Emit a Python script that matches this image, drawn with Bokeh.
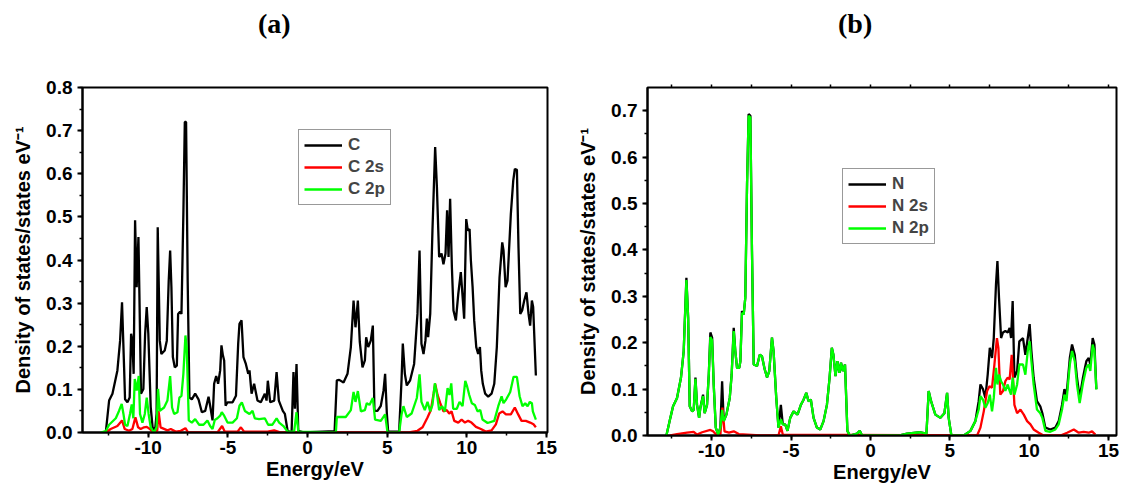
from bokeh.plotting import figure
from bokeh.models import (Range1d, SingleIntervalTicker, LinearAxis, Div, Spacer,
                          NumeralTickFormatter, CustomJSTickFormatter)
from bokeh.layouts import row, column
from bokeh.embed import file_html
from bokeh.resources import INLINE

# ---------------- data: panel (a) carbon ----------------
c_tot_e = [-12.66, -12.45, -12.24, -11.93, -11.76, -11.64, -11.51, -11.45, -11.30, -11.16,
           -11.07, -10.99, -10.91, -10.82, -10.72, -10.61, -10.55, -10.45, -10.30, -10.19,
           -10.09, -9.99, -9.84, -9.72, -9.57, -9.47, -9.40, -9.27, -9.17, -8.96,
           -8.83, -8.71, -8.62, -8.54, -8.45, -8.33, -8.20, -8.12, -8.00, -7.91,
           -7.79, -7.70, -7.62, -7.52, -7.41, -7.26, -7.05, -6.84, -6.63, -6.42,
           -6.21, -6.11, -5.96, -5.86, -5.73, -5.61, -5.48, -5.40, -5.31, -5.23,
           -5.14, -5.02, -4.70, -4.49, -4.35, -4.27, -4.14, -4.02, -3.87, -3.72,
           -3.64, -3.51, -3.35, -3.14, -2.93, -2.68, -2.57, -2.49, -2.34, -2.09,
           -1.94, -1.80, -1.55, -1.42, -1.25, -1.00, -0.88, -0.79, -0.69, -0.58,
           -0.20, 1.70, 1.84, 1.99, 2.26, 2.51, 2.72, 2.89, 3.01, 3.16,
           3.28, 3.45, 3.60, 3.68, 3.81, 3.97, 4.10, 4.20, 4.39, 4.60,
           4.77, 4.87, 4.98, 5.06, 5.75, 5.90, 5.98, 6.11, 6.23, 6.44,
           6.69, 6.90, 7.03, 7.15, 7.28, 7.40, 7.49, 7.57, 7.70, 7.84,
           8.01, 8.12, 8.26, 8.41, 8.53, 8.66, 8.76, 8.85, 8.95, 9.06,
           9.16, 9.31, 9.46, 9.62, 9.75, 9.83, 9.96, 10.06, 10.17, 10.25,
           10.36, 10.46, 10.59, 10.71, 10.82, 10.90, 11.00, 11.15, 11.34, 11.55,
           11.72, 11.88, 12.05, 12.22, 12.30, 12.43, 12.55, 12.76, 12.91, 13.01,
           13.14, 13.24, 13.35, 13.47, 13.60, 13.74, 13.87, 13.97, 14.08, 14.16,
           14.33]
c_tot = [0.000, 0.074, 0.090, 0.144, 0.213, 0.302, 0.151, 0.077, 0.070, 0.081,
         0.229, 0.213, 0.136, 0.492, 0.337, 0.453, 0.322, 0.090, 0.101, 0.229,
         0.291, 0.229, 0.059, 0.012, 0.004, 0.043, 0.476, 0.213, 0.182, 0.190,
         0.213, 0.352, 0.422, 0.337, 0.175, 0.151, 0.155, 0.275, 0.280, 0.275,
         0.507, 0.720, 0.720, 0.352, 0.081, 0.077, 0.090, 0.077, 0.047, 0.050,
         0.083, 0.062, 0.028, 0.113, 0.131, 0.113, 0.144, 0.202, 0.179, 0.167,
         0.062, 0.070, 0.070, 0.085, 0.206, 0.252, 0.260, 0.175, 0.159, 0.136,
         0.144, 0.090, 0.113, 0.074, 0.070, 0.090, 0.074, 0.120, 0.070, 0.074,
         0.140, 0.074, 0.050, 0.043, 0.004, 0.000, 0.140, 0.055, 0.159, 0.004,
         0.000, 0.003, 0.121, 0.122, 0.116, 0.136, 0.198, 0.306, 0.244, 0.306,
         0.210, 0.151, 0.167, 0.221, 0.198, 0.213, 0.248, 0.050, 0.050, 0.062,
         0.097, 0.136, 0.043, 0.002, 0.002, 0.121, 0.206, 0.136, 0.109, 0.121,
         0.159, 0.275, 0.422, 0.206, 0.182, 0.213, 0.264, 0.221, 0.275, 0.468,
         0.662, 0.569, 0.407, 0.415, 0.390, 0.415, 0.515, 0.407, 0.542, 0.383,
         0.283, 0.260, 0.321, 0.372, 0.306, 0.264, 0.495, 0.468, 0.472, 0.400,
         0.337, 0.260, 0.198, 0.182, 0.198, 0.144, 0.113, 0.090, 0.083, 0.090,
         0.113, 0.198, 0.360, 0.441, 0.422, 0.337, 0.352, 0.507, 0.584, 0.611,
         0.609, 0.429, 0.275, 0.283, 0.306, 0.325, 0.275, 0.248, 0.306, 0.291,
         0.132]

c_2s_e = [-12.66, -12.35, -11.93, -11.64, -11.47, -11.20, -10.99, -10.80, -10.63, -10.47,
          -10.26, -10.09, -9.89, -9.68, -9.43, -9.35, -9.22, -8.79, -8.58, -8.27,
          -7.95, -7.66, -7.49, -5.65, -5.36, -5.19, -4.39, -4.18, -3.98, -2.51,
          -2.09, -1.67, 6.36, 6.90, 7.22, 7.53, 7.74, 7.91, 8.01, 8.16,
          8.33, 8.53, 8.74, 8.89, 9.04, 9.21, 9.46, 9.67, 9.88, 10.08,
          10.29, 10.57, 10.88, 11.19, 11.55, 11.82, 12.03, 12.24, 12.45, 12.76,
          13.01, 13.22, 13.43, 13.70, 13.97, 14.18, 14.33]
c_2s = [0.000, 0.008, 0.015, 0.028, 0.008, 0.004, 0.008, 0.035, 0.012, 0.008,
        0.012, 0.013, 0.008, 0.000, 0.004, 0.050, 0.012, 0.005, 0.008, 0.002,
        0.004, 0.010, 0.000, 0.000, 0.015, 0.002, 0.002, 0.012, 0.002, 0.002,
        0.005, 0.000, 0.000, 0.004, 0.012, 0.035, 0.052, 0.090, 0.113, 0.087,
        0.068, 0.049, 0.052, 0.044, 0.049, 0.027, 0.023, 0.030, 0.023, 0.027,
        0.023, 0.013, 0.008, 0.002, 0.005, 0.019, 0.044, 0.049, 0.042, 0.042,
        0.058, 0.042, 0.027, 0.027, 0.023, 0.019, 0.012]

c_2p_e = [-12.98, -12.66, -12.45, -12.03, -11.83, -11.66, -11.55, -11.45, -11.30, -11.14,
          -11.03, -10.93, -10.84, -10.72, -10.59, -10.51, -10.36, -10.21, -10.09, -9.97,
          -9.84, -9.63, -9.47, -9.38, -9.27, -9.00, -8.79, -8.62, -8.50, -8.37,
          -8.16, -8.04, -7.91, -7.79, -7.66, -7.58, -7.45, -7.26, -7.05, -6.80,
          -6.53, -6.28, -6.11, -5.96, -5.82, -5.65, -5.48, -5.38, -5.23, -5.02,
          -4.70, -4.43, -4.27, -4.12, -3.93, -3.64, -3.45, -3.31, -3.04, -2.68,
          -2.47, -2.20, -1.94, -1.78, -1.51, -1.25, -0.84, -0.69, -0.58, 1.78,
          1.84, 2.40, 2.72, 2.89, 3.01, 3.16, 3.35, 3.60, 3.72, 3.89,
          4.10, 4.24, 4.60, 4.87, 5.02, 5.75, 5.90, 6.02, 6.23, 6.53,
          6.86, 7.03, 7.15, 7.36, 7.53, 7.70, 7.84, 7.99, 8.12, 8.26,
          8.45, 8.62, 8.79, 8.91, 9.02, 9.14, 9.37, 9.54, 9.73, 9.90,
          10.00, 10.15, 10.31, 10.50, 10.67, 10.84, 10.98, 11.30, 11.72, 11.97,
          12.18, 12.30, 12.47, 12.72, 12.93, 13.14, 13.31, 13.49, 13.66, 13.81,
          13.95, 14.08, 14.14, 14.33]
c_2p = [0.000, 0.003, 0.018, 0.033, 0.050, 0.066, 0.043, 0.018, 0.015, 0.043,
        0.065, 0.033, 0.124, 0.097, 0.131, 0.043, 0.023, 0.043, 0.081, 0.043,
        0.012, 0.000, 0.012, 0.101, 0.050, 0.058, 0.074, 0.131, 0.058, 0.043,
        0.047, 0.081, 0.085, 0.136, 0.225, 0.198, 0.028, 0.023, 0.031, 0.018,
        0.018, 0.028, 0.015, 0.008, 0.029, 0.033, 0.039, 0.047, 0.039, 0.023,
        0.023, 0.033, 0.062, 0.070, 0.050, 0.043, 0.050, 0.033, 0.031, 0.033,
        0.018, 0.018, 0.033, 0.023, 0.015, 0.002, 0.002, 0.047, 0.002, 0.000,
        0.036, 0.036, 0.052, 0.094, 0.071, 0.096, 0.049, 0.052, 0.068, 0.064,
        0.080, 0.030, 0.027, 0.042, 0.000, 0.000, 0.042, 0.061, 0.036, 0.044,
        0.080, 0.135, 0.071, 0.052, 0.071, 0.049, 0.064, 0.114, 0.090, 0.052,
        0.061, 0.049, 0.103, 0.087, 0.114, 0.055, 0.055, 0.071, 0.061, 0.120,
        0.109, 0.087, 0.068, 0.064, 0.049, 0.052, 0.030, 0.022, 0.027, 0.061,
        0.084, 0.068, 0.077, 0.094, 0.129, 0.129, 0.084, 0.061, 0.068, 0.061,
        0.071, 0.068, 0.049, 0.030]

# ---------------- data: panel (b) nitrogen ----------------
n_val_e = [-12.85, -12.60, -12.43, -12.18, -11.93, -11.76, -11.59, -11.48, -11.38, -11.23,
           -11.13, -11.02, -10.92, -10.79, -10.71, -10.54, -10.44, -10.29, -10.18, -10.08,
           -9.97, -9.87, -9.74, -9.59, -9.45, -9.34, -9.24, -9.07, -8.86, -8.74,
           -8.61, -8.51, -8.40, -8.26, -8.19, -8.09, -7.98, -7.88, -7.77, -7.67,
           -7.56, -7.46, -7.35, -7.14, -6.97, -6.83, -6.66, -6.51, -6.37, -6.20,
           -6.10, -5.93, -5.79, -5.64, -5.52, -5.37, -5.22, -5.05, -4.84, -4.59,
           -4.38, -4.21, -4.04, -3.90, -3.75, -3.58, -3.37, -3.16, -2.95, -2.74,
           -2.57, -2.43, -2.33, -2.20, -2.08, -1.95, -1.85, -1.74, -1.60, -1.45,
           -1.30, -0.84, -0.67, -0.53, 1.78, 2.31, 3.15, 3.53, 3.67, 3.82,
           4.09, 4.41, 4.66, 4.83, 4.93, 5.10, 5.88, 6.30, 6.61]
n_tot_val = [0.000, 0.038, 0.063, 0.081, 0.125, 0.182, 0.340, 0.254, 0.063, 0.052,
             0.055, 0.125, 0.066, 0.038, 0.060, 0.088, 0.048, 0.066, 0.131, 0.222,
             0.211, 0.110, 0.017, 0.002, 0.017, 0.117, 0.031, 0.045, 0.081, 0.131,
             0.232, 0.182, 0.146, 0.146, 0.160, 0.268, 0.261, 0.297, 0.542, 0.693,
             0.689, 0.398, 0.153, 0.150, 0.174, 0.171, 0.143, 0.125, 0.139, 0.211,
             0.182, 0.081, 0.017, 0.066, 0.024, 0.024, 0.010, 0.038, 0.052, 0.045,
             0.066, 0.077, 0.092, 0.074, 0.077, 0.038, 0.017, 0.013, 0.031, 0.066,
             0.125, 0.189, 0.174, 0.128, 0.160, 0.135, 0.157, 0.139, 0.153, 0.010,
             0.000, 0.004, 0.010, 0.000, 0.000, 0.004, 0.007, 0.004, 0.096, 0.074,
             0.045, 0.038, 0.048, 0.092, 0.038, 0.000, 0.000, 0.010, 0.031]
n_2p_val = [0.000, 0.038, 0.063, 0.081, 0.125, 0.182, 0.335, 0.254, 0.063, 0.052,
            0.055, 0.122, 0.066, 0.038, 0.060, 0.085, 0.048, 0.066, 0.131, 0.212,
            0.205, 0.110, 0.017, 0.002, 0.017, 0.055, 0.031, 0.045, 0.081, 0.131,
            0.225, 0.182, 0.146, 0.146, 0.160, 0.264, 0.261, 0.297, 0.542, 0.689,
            0.685, 0.398, 0.153, 0.150, 0.174, 0.171, 0.143, 0.125, 0.139, 0.211,
            0.182, 0.081, 0.017, 0.035, 0.024, 0.024, 0.010, 0.038, 0.052, 0.045,
            0.066, 0.077, 0.092, 0.074, 0.077, 0.038, 0.017, 0.013, 0.031, 0.066,
            0.125, 0.189, 0.174, 0.128, 0.160, 0.135, 0.157, 0.139, 0.153, 0.010,
            0.000, 0.004, 0.010, 0.000, 0.000, 0.004, 0.007, 0.004, 0.096, 0.074,
            0.045, 0.038, 0.048, 0.092, 0.038, 0.000, 0.000, 0.010, 0.031]

n_cond_e = [6.82, 6.93, 7.09, 7.24, 7.39, 7.52, 7.66, 7.77, 7.91, 8.00,
            8.10, 8.23, 8.35, 8.50, 8.65, 8.77, 8.86, 8.96, 9.07, 9.24,
            9.38, 9.61, 9.76, 9.91, 10.03, 10.14, 10.28, 10.49, 10.70, 10.83,
            11.02, 11.33, 11.65, 11.86, 12.07, 12.22, 12.35, 12.56, 12.70, 12.87,
            13.01, 13.18, 13.39, 13.60, 13.75, 13.85, 14.00, 14.11, 14.23]
n_tot_cond = [0.074, 0.110, 0.100, 0.081, 0.132, 0.189, 0.167, 0.210, 0.326, 0.376,
              0.297, 0.210, 0.222, 0.225, 0.222, 0.232, 0.210, 0.290, 0.125, 0.139,
              0.203, 0.210, 0.174, 0.210, 0.240, 0.182, 0.125, 0.074, 0.063, 0.048,
              0.017, 0.013, 0.017, 0.031, 0.066, 0.100, 0.085, 0.167, 0.196, 0.174,
              0.125, 0.081, 0.125, 0.160, 0.167, 0.153, 0.210, 0.196, 0.100]
n_2p_cond = [0.056, 0.085, 0.077, 0.060, 0.070, 0.088, 0.052, 0.081, 0.146, 0.110,
             0.131, 0.117, 0.110, 0.096, 0.110, 0.096, 0.088, 0.125, 0.088, 0.110,
             0.153, 0.153, 0.131, 0.182, 0.203, 0.160, 0.110, 0.056, 0.048, 0.038,
             0.010, 0.008, 0.013, 0.024, 0.056, 0.088, 0.074, 0.153, 0.182, 0.160,
             0.110, 0.070, 0.113, 0.146, 0.153, 0.139, 0.196, 0.182, 0.099]

n_2s_e = [-12.60, -12.18, -11.55, -11.13, -10.92, -10.60, -10.08, -9.91, -9.66, -9.45,
          -9.32, -9.19, -8.91, -8.61, -8.29, -7.77, -6.93, -5.79, -5.64, -5.52,
          6.72, 6.93, 7.14, 7.35, 7.50, 7.66, 7.81, 7.97, 8.06, 8.18,
          8.35, 8.50, 8.65, 8.77, 8.90, 8.98, 9.07, 9.24, 9.45, 9.66,
          9.87, 10.08, 10.28, 10.60, 10.91, 11.97, 12.39, 12.81, 13.12, 13.43,
          13.75, 13.96, 14.17]
n_2s = [0.000, 0.003, 0.006, 0.008, 0.002, 0.007, 0.012, 0.009, 0.000, 0.002,
        0.060, 0.009, 0.006, 0.009, 0.003, 0.002, 0.000, 0.000, 0.020, 0.002,
        0.000, 0.017, 0.052, 0.096, 0.106, 0.103, 0.153, 0.210, 0.189, 0.088,
        0.096, 0.117, 0.125, 0.121, 0.174, 0.125, 0.066, 0.048, 0.056, 0.045,
        0.031, 0.024, 0.013, 0.006, 0.000, 0.000, 0.006, 0.013, 0.006, 0.008,
        0.006, 0.009, 0.002]

n_tot_e = n_val_e + n_cond_e
n_tot = n_tot_val + n_tot_cond
n_2p_e = n_val_e + n_cond_e
n_2p = n_2p_val + n_2p_cond

panel_titles = ["(a)", "(b)"]
legend_a = ["C", "C 2s", "C 2p"]
legend_b = ["N", "N 2s", "N 2p"]
x_label = "Energy/eV"
y_label = "Density of states/states eV\u207b\u00b9"

FONT = "Liberation Sans"
COLORS = ["#000000", "#ff0000", "#00ff00"]


def make_panel(series, labels, xr, yr, fw, fh, bl, br, bt, bb, leg_loc, top_ticks):
    p = figure(frame_width=fw, frame_height=fh, min_border_left=bl,
               min_border_right=br, min_border_top=bt, min_border_bottom=bb,
               x_range=Range1d(*xr), y_range=Range1d(*yr),
               output_backend="svg", toolbar_location=None, tools="")
    p.grid.visible = False
    p.outline_line_color = "black"
    p.outline_line_width = 2
    p.background_fill_color = "white"
    p.border_fill_color = "white"

    for (xs, ys), lab, col in zip(series, labels, COLORS):
        p.line(xs, ys, line_color=col, line_width=2.3, legend_label=lab)

    xa = p.below[0]
    xa.ticker = SingleIntervalTicker(interval=5, num_minor_ticks=2)
    xa.formatter = NumeralTickFormatter(format="0")
    ya = p.left[0]
    ya.ticker = SingleIntervalTicker(interval=0.1, num_minor_ticks=2)
    ya.formatter = NumeralTickFormatter(format="0.0")
    for ax in (xa, ya):
        ax.axis_line_width = 2
        ax.axis_line_color = "black"
        ax.major_tick_out = 5
        ax.major_tick_in = 0
        ax.minor_tick_out = 3
        ax.minor_tick_in = 0
        ax.major_tick_line_width = 2
        ax.minor_tick_line_width = 1.5
        ax.major_label_text_font = FONT
        ax.major_label_text_font_style = "bold"
        ax.major_label_text_font_size = "19px"
        ax.major_label_text_color = "black"
        ax.axis_label_text_font = FONT
        ax.axis_label_text_font_style = "bold"
        ax.axis_label_text_font_size = "20px"
        ax.axis_label_text_color = "black"
    xa.axis_label = x_label
    xa.major_label_standoff = 3
    xa.axis_label_standoff = 1
    ya.axis_label = y_label
    ya.major_label_standoff = 5
    ya.axis_label_standoff = 9

    if top_ticks:
        top = LinearAxis(ticker=SingleIntervalTicker(interval=2.5, num_minor_ticks=0),
                         formatter=CustomJSTickFormatter(code="return ''"),
                         axis_line_color=None, major_tick_out=3, major_tick_in=0,
                         major_tick_line_width=1.5, minor_tick_out=0,
                         major_label_standoff=0, major_label_text_font_size="1px")
        p.add_layout(top, "above")

    leg = p.legend[0]
    leg.location = leg_loc
    leg.margin = 0
    leg.padding = 5
    leg.spacing = 2
    leg.glyph_width = 38
    leg.glyph_height = 20
    leg.label_height = 20
    leg.label_standoff = 6
    leg.label_text_font = FONT
    leg.label_text_font_style = "bold"
    leg.label_text_font_size = "17px"
    leg.border_line_color = "#333333"
    leg.border_line_width = 1
    leg.background_fill_alpha = 1
    return p


pa = make_panel([(c_tot_e, c_tot), (c_2s_e, c_2s), (c_2p_e, c_2p)], legend_a,
                (-14.12, 15.06), (0, 0.8), 465, 345, 82, 20, 39, 54, (216, 227), False)
pb = make_panel([(n_tot_e, n_tot), (n_2s_e, n_2s), (n_2p_e, n_2p)], legend_b,
                (-14.04, 15.5), (0, 0.75), 469, 348, 80, 8, 35, 55, (195, 191), True)

TITLE_STYLE = ("font-family:'Liberation Serif';font-weight:bold;font-size:28px;"
               "color:black;padding-top:8px;line-height:32px;white-space:nowrap;")
title_a = Div(text=f'<div style="{TITLE_STYLE}">{panel_titles[0]}</div>',
              width=44, height=48, margin=0)
title_b = Div(text=f'<div style="{TITLE_STYLE}">{panel_titles[1]}</div>',
              width=44, height=48, margin=0)
header = row(Spacer(width=258, height=48, margin=0), title_a,
             Spacer(width=536, height=48, margin=0), title_b,
             Spacer(width=242, height=48, margin=0))

layout = column(header, row(pa, pb))
open("out.html", "w").write(file_html(layout, INLINE))
